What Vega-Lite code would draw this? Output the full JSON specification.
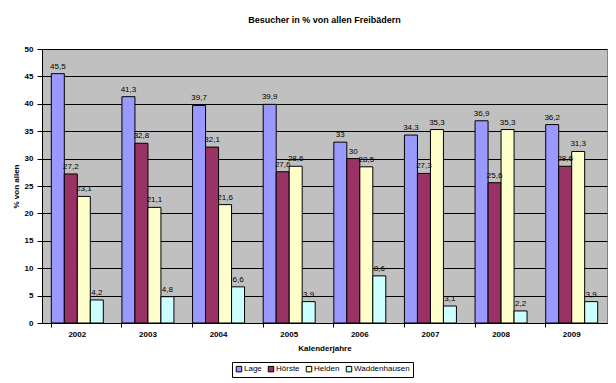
{
  "$schema": "https://vega.github.io/schema/vega-lite/v6.json",
  "width": 565,
  "height": 274,
  "autosize": "none",
  "padding": {"left": 42, "top": 49, "right": 9, "bottom": 60},
  "background": "white",
  "title": {"text": "Besucher in % von allen Freibädern", "font": "Liberation Sans", "fontSize": 9, "fontWeight": "bold", "color": "black", "offset": 20, "anchor": "middle"},
  "config": {
    "locale": {"number": {"decimal": ",", "thousands": ".", "grouping": [3], "currency": ["", " €"]}},
    "view": {"fill": "#C0C0C0", "stroke": "#808080", "strokeWidth": 1},
    "font": "Liberation Sans"
  },
  "data": {"values": [
    {"Jahr": "2002", "Ort": "Lage", "Wert": 45.5},
    {"Jahr": "2002", "Ort": "Hörste", "Wert": 27.2},
    {"Jahr": "2002", "Ort": "Helden", "Wert": 23.1},
    {"Jahr": "2002", "Ort": "Waddenhausen", "Wert": 4.2},
    {"Jahr": "2003", "Ort": "Lage", "Wert": 41.3},
    {"Jahr": "2003", "Ort": "Hörste", "Wert": 32.8},
    {"Jahr": "2003", "Ort": "Helden", "Wert": 21.1},
    {"Jahr": "2003", "Ort": "Waddenhausen", "Wert": 4.8},
    {"Jahr": "2004", "Ort": "Lage", "Wert": 39.7},
    {"Jahr": "2004", "Ort": "Hörste", "Wert": 32.1},
    {"Jahr": "2004", "Ort": "Helden", "Wert": 21.6},
    {"Jahr": "2004", "Ort": "Waddenhausen", "Wert": 6.6},
    {"Jahr": "2005", "Ort": "Lage", "Wert": 39.9},
    {"Jahr": "2005", "Ort": "Hörste", "Wert": 27.6},
    {"Jahr": "2005", "Ort": "Helden", "Wert": 28.6},
    {"Jahr": "2005", "Ort": "Waddenhausen", "Wert": 3.9},
    {"Jahr": "2006", "Ort": "Lage", "Wert": 33},
    {"Jahr": "2006", "Ort": "Hörste", "Wert": 30},
    {"Jahr": "2006", "Ort": "Helden", "Wert": 28.5},
    {"Jahr": "2006", "Ort": "Waddenhausen", "Wert": 8.6},
    {"Jahr": "2007", "Ort": "Lage", "Wert": 34.3},
    {"Jahr": "2007", "Ort": "Hörste", "Wert": 27.3},
    {"Jahr": "2007", "Ort": "Helden", "Wert": 35.3},
    {"Jahr": "2007", "Ort": "Waddenhausen", "Wert": 3.1},
    {"Jahr": "2008", "Ort": "Lage", "Wert": 36.9},
    {"Jahr": "2008", "Ort": "Hörste", "Wert": 25.6},
    {"Jahr": "2008", "Ort": "Helden", "Wert": 35.3},
    {"Jahr": "2008", "Ort": "Waddenhausen", "Wert": 2.2},
    {"Jahr": "2009", "Ort": "Lage", "Wert": 36.2},
    {"Jahr": "2009", "Ort": "Hörste", "Wert": 28.6},
    {"Jahr": "2009", "Ort": "Helden", "Wert": 31.3},
    {"Jahr": "2009", "Ort": "Waddenhausen", "Wert": 3.9}
  ]},
  "encoding": {
    "x": {"field": "Jahr", "type": "nominal", "title": "Kalenderjahre",
      "scale": {"paddingInner": 0.264, "paddingOuter": 0.132},
      "axis": {"labelAngle": 0, "labelFont": "Liberation Sans", "labelFontSize": 8, "labelFontWeight": "bold", "labelColor": "black", "labelPadding": 3,
        "titleFont": "Liberation Sans", "titleFontSize": 8, "titleFontWeight": "bold", "titleColor": "black", "titlePadding": 6,
        "domainColor": "black", "tickColor": "black", "tickSize": 4, "bandPosition": 0, "grid": false}},
    "xOffset": {"field": "Ort", "type": "nominal", "sort": ["Lage", "Hörste", "Helden", "Waddenhausen"], "scale": {"paddingInner": 0, "paddingOuter": 0}},
    "y": {"field": "Wert", "type": "quantitative", "title": "% von allen",
      "scale": {"domain": [0, 50], "nice": false},
      "axis": {"values": [0, 5, 10, 15, 20, 25, 30, 35, 40, 45, 50], "labelFont": "Liberation Sans", "labelFontSize": 8, "labelFontWeight": "bold", "labelColor": "black", "labelPadding": 4,
        "titleFont": "Liberation Sans", "titleFontSize": 8, "titleFontWeight": "bold", "titleColor": "black", "titlePadding": 4,
        "domainColor": "black", "tickColor": "black", "tickSize": 5, "grid": true, "gridColor": "black", "gridWidth": 1}}
  },
  "layer": [
    {
      "mark": {"type": "bar", "stroke": "black", "strokeWidth": 1},
      "encoding": {
        "color": {"field": "Ort", "type": "nominal", "sort": ["Lage", "Hörste", "Helden", "Waddenhausen"],
          "scale": {"domain": ["Lage", "Hörste", "Helden", "Waddenhausen"], "range": ["#9999FF", "#993366", "#FFFFCC", "#CCFFFF"]},
          "legend": {"title": null, "orient": "none", "legendX": 190, "legendY": 313, "direction": "horizontal",
            "symbolType": "square", "symbolSize": 30, "symbolStrokeColor": "black", "symbolStrokeWidth": 1,
            "labelFont": "Liberation Sans", "labelFontSize": 8, "labelColor": "black", "labelOffset": 1,
            "columnPadding": 4, "strokeColor": "black", "padding": 3, "fillColor": "white"}}
      }
    },
    {
      "mark": {"type": "text", "baseline": "bottom", "dy": -3, "font": "Liberation Sans", "fontSize": 8, "color": "black"},
      "encoding": {
        "text": {"field": "Wert", "type": "quantitative", "format": ".1~f"}
      }
    }
  ]
}
